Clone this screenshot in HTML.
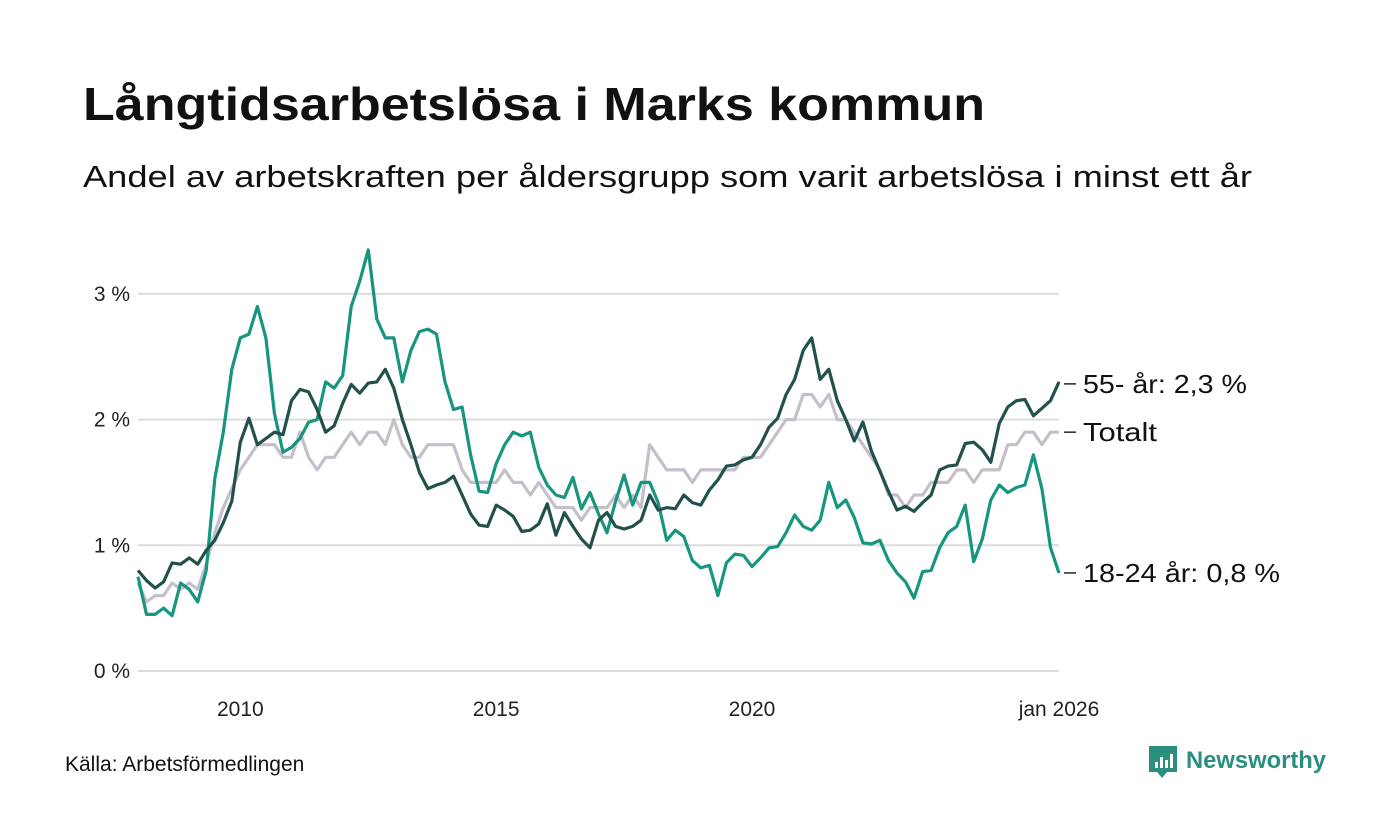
<!DOCTYPE html>
<html><head><meta charset="utf-8"><style>
body{margin:0;background:#fff;font-family:"Liberation Sans",sans-serif;}
#wrap{position:relative;width:1400px;height:840px;overflow:hidden;}
</style></head><body>
<div id="wrap">
<svg id="chart" width="1400" height="840"></svg>
</div>
<script>
const yTicks=[0,1,2,3];
const yTickLabels=["0 %","1 %","2 %","3 %"];
const xTicks=[2010,2015,2020,2026];
const xTickLabels=["2010","2015","2020","jan 2026"];
const startYear=2008, stepMonths=2;
const youth=[0.75,0.45,0.45,0.5,0.44,0.7,0.65,0.55,0.8,1.53,1.9,2.4,2.65,2.68,2.9,2.65,2.05,1.74,1.78,1.85,1.98,2.0,2.3,2.25,2.35,2.9,3.1,3.35,2.8,2.65,2.65,2.3,2.55,2.7,2.72,2.68,2.3,2.08,2.1,1.72,1.43,1.42,1.65,1.8,1.9,1.87,1.9,1.62,1.48,1.4,1.38,1.54,1.29,1.42,1.25,1.1,1.35,1.56,1.32,1.5,1.5,1.34,1.04,1.12,1.07,0.88,0.82,0.84,0.6,0.86,0.93,0.92,0.83,0.9,0.98,0.99,1.1,1.24,1.15,1.12,1.2,1.5,1.3,1.36,1.22,1.02,1.01,1.04,0.88,0.78,0.71,0.58,0.79,0.8,0.98,1.1,1.15,1.32,0.87,1.05,1.36,1.48,1.42,1.46,1.48,1.72,1.45,0.98,0.78];
const senior=[0.8,0.72,0.66,0.71,0.86,0.85,0.9,0.85,0.96,1.04,1.18,1.35,1.82,2.01,1.8,1.85,1.9,1.88,2.15,2.24,2.22,2.08,1.9,1.95,2.13,2.28,2.21,2.29,2.3,2.4,2.25,2.0,1.8,1.58,1.45,1.48,1.5,1.55,1.4,1.25,1.16,1.15,1.32,1.28,1.23,1.11,1.12,1.17,1.33,1.08,1.26,1.15,1.05,0.98,1.2,1.26,1.15,1.13,1.15,1.2,1.4,1.28,1.3,1.29,1.4,1.34,1.32,1.44,1.52,1.63,1.64,1.68,1.7,1.8,1.94,2.01,2.2,2.32,2.55,2.65,2.32,2.4,2.15,2.0,1.83,1.98,1.75,1.59,1.43,1.28,1.31,1.27,1.34,1.4,1.6,1.63,1.64,1.81,1.82,1.76,1.66,1.97,2.1,2.15,2.16,2.03,2.09,2.15,2.3];
const total=[0.7,0.55,0.6,0.6,0.7,0.65,0.7,0.65,0.85,1.1,1.3,1.45,1.6,1.7,1.8,1.8,1.8,1.7,1.7,1.9,1.7,1.6,1.7,1.7,1.8,1.9,1.8,1.9,1.9,1.8,2.0,1.8,1.7,1.7,1.8,1.8,1.8,1.8,1.6,1.5,1.5,1.5,1.5,1.6,1.5,1.5,1.4,1.5,1.4,1.3,1.3,1.3,1.2,1.3,1.3,1.3,1.4,1.3,1.4,1.3,1.8,1.7,1.6,1.6,1.6,1.5,1.6,1.6,1.6,1.6,1.6,1.7,1.7,1.7,1.8,1.9,2.0,2.0,2.2,2.2,2.1,2.2,2.0,2.0,1.9,1.8,1.7,1.6,1.4,1.4,1.3,1.4,1.4,1.5,1.5,1.5,1.6,1.6,1.5,1.6,1.6,1.6,1.8,1.8,1.9,1.9,1.8,1.9,1.9];

const NS="http://www.w3.org/2000/svg";
const svg=document.getElementById('chart');
const X0=138,X1=1059,Y0=671,PER=125.7;
const xScale=yr=>X0+(yr-2008)/(2026-2008)*(X1-X0);
const yScale=v=>Y0-v*PER;
const xOfIndex=i=>xScale(startYear+i*stepMonths/12);
function mk(tag,attrs,txt){const e=document.createElementNS(NS,tag);for(const k in attrs)e.setAttribute(k,attrs[k]);if(txt!=null)e.textContent=txt;svg.appendChild(e);return e;}

let t=mk('text',{x:83,y:120,'font-size':46,'font-weight':'bold',fill:'#111',textLength:902,lengthAdjust:'spacingAndGlyphs'},'Långtidsarbetslösa i Marks kommun');


t=mk('text',{x:83,y:187,'font-size':31,fill:'#111',textLength:1169,lengthAdjust:'spacingAndGlyphs'},'Andel av arbetskraften per åldersgrupp som varit arbetslösa i minst ett år');



yTicks.forEach((v,i)=>{
  const l=mk('line',{x1:X0,x2:X1,y1:yScale(v),y2:yScale(v),stroke:'#dcdce0','stroke-width':2});
  
  
  const tx=mk('text',{x:130,y:yScale(v)+7,'font-size':21,fill:'#222','text-anchor':'end'},yTickLabels[i]);
  
  
});
xTicks.forEach((v,i)=>{
  const tx=mk('text',{x:xScale(v),y:716,'font-size':21,fill:'#222','text-anchor':'middle'},xTickLabels[i]);
  
  
});

function line(data,color,name){
  const d=data.map((v,i)=>(i?'L':'M')+xOfIndex(i).toFixed(1)+','+yScale(v).toFixed(1)).join('');
  const p=mk('path',{d:d,fill:'none',stroke:color,'stroke-width':3.2,'stroke-linejoin':'round'});
  
  
}
line(total,'#c4bfcb','line-totalt');
line(youth,'#17957f','line-18-24');
line(senior,'#22504a','line-55-plus');

function label(data,txt,name,dy,w){
  const y=yScale(data[data.length-1])+dy;
  const l=mk('line',{x1:1064,x2:1076,y1:y,y2:y,stroke:'#222','stroke-width':1.5});
  
  
  const tx=mk('text',{x:1083,y:y+9,'font-size':26,fill:'#111',textLength:w,lengthAdjust:'spacingAndGlyphs'},txt);
  
  
}
label(senior,'55- år: 2,3 %','label-55-plus',2,164);
label(total,'Totalt','label-totalt',0,74);
label(youth,'18-24 år: 0,8 %','label-18-24',0,197);

t=mk('text',{x:65,y:771,'font-size':21,fill:'#111'},'Källa: Arbetsförmedlingen');


const g=mk('g',{});


const r=mk('path',{d:'M1149,746h28v26h-10l-5,6l-5,-6h-8z',fill:'#2a8f7f'});


[[1155,762,6],[1160,757,11],[1165,760,8],[1170,754,14]].forEach(b=>{const bb=mk('rect',{x:b[0],y:b[1],width:3,height:b[2],fill:'#fff'});});
t=mk('text',{x:1186,y:768,'font-size':24,'font-weight':'bold',fill:'#2a8f7f',textLength:140,lengthAdjust:'spacingAndGlyphs'},'Newsworthy');


</script>
</body></html>
